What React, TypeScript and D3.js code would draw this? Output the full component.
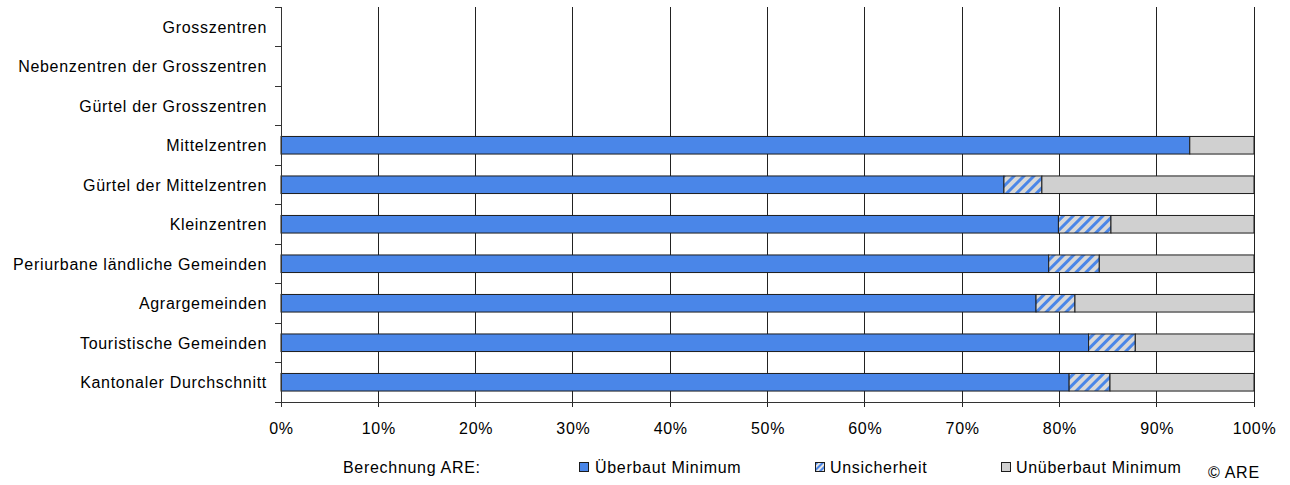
import React from "react";
import * as d3 from "d3";

const categories = [
  "Grosszentren",
  "Nebenzentren der Grosszentren",
  "Gürtel der Grosszentren",
  "Mittelzentren",
  "Gürtel der Mittelzentren",
  "Kleinzentren",
  "Periurbane ländliche Gemeinden",
  "Agrargemeinden",
  "Touristische Gemeinden",
  "Kantonaler Durchschnitt",
];
const ueberbautMinimum = [0, 0, 0, 93.4, 74.3, 79.9, 78.9, 77.6, 83.0, 81.0];
const unsicherheit = [0, 0, 0, 0, 3.9, 5.4, 5.2, 4.0, 4.8, 4.2];
const unueberbautMinimum = [0, 0, 0, 6.6, 21.8, 14.7, 15.9, 18.4, 12.2, 14.8];
const xTicks = [0, 10, 20, 30, 40, 50, 60, 70, 80, 90, 100];
const seriesKeys = ["ueberbaut", "unsicher", "unueberbaut"];
const seriesLabels = ["Überbaut Minimum", "Unsicherheit", "Unüberbaut Minimum"];

const W = 1290;
const H = 485;
const M = { left: 281, right: 36, top: 7, bottom: 83 };
const FONT = "Arial, 'Liberation Sans', sans-serif";
const BLUE = "#4a86e8";
const GREY = "#d0d0d0";
const STROKE = "#1c1c1c";

export default function App() {
  const rows = categories.map((c, i) => ({
    cat: c,
    ueberbaut: ueberbautMinimum[i],
    unsicher: unsicherheit[i],
    unueberbaut: unueberbautMinimum[i],
  }));
  const stacked = d3.stack<any>().keys(seriesKeys)(rows);
  const x = d3.scaleLinear().domain([0, 100]).range([M.left, W - M.right]);
  const y = d3
    .scaleBand()
    .domain(categories)
    .range([M.top, H - M.bottom])
    .paddingInner(0.555)
    .paddingOuter(0.2775);
  const yb = d3.scaleBand().domain(categories).range([M.top, H - M.bottom]);
  const fills = [BLUE, "url(#hatch)", GREY];
  const y0 = M.top;
  const y1 = H - M.bottom;
  const bounds = [...categories.map((c) => yb(c) as number), y1];

  const legendItems = [
    { sx: 579, tx: 595 },
    { sx: 815, tx: 830 },
    { sx: 1001, tx: 1016 },
  ];

  return (
    <svg
      width={W}
      height={H}
      style={{ position: "absolute", left: 0, top: 0, background: "#fff" }}
      fontFamily={FONT}
      fontSize={16}
      letterSpacing={0.7}
    >
      <defs>
        <pattern
          id="hatch"
          patternUnits="userSpaceOnUse"
          width={7}
          height={7}
          patternTransform="rotate(45)"
        >
          <rect width={7} height={7} fill="#d8d8d8" />
          <rect width={3} height={7} fill={BLUE} />
        </pattern>
        <pattern
          id="hatchSmall"
          patternUnits="userSpaceOnUse"
          width={4}
          height={4}
          patternTransform="rotate(45)"
        >
          <rect width={4} height={4} fill="#e6e6e6" />
          <rect width={2} height={4} fill={BLUE} />
        </pattern>
      </defs>

      {/* vertical gridlines */}
      {xTicks.slice(1).map((t) => (
        <line
          key={"g" + t}
          x1={x(t)}
          x2={x(t)}
          y1={y0}
          y2={y1 + 5}
          stroke="#222"
          strokeWidth={1}
          shapeRendering="crispEdges"
        />
      ))}

      {/* bars */}
      {stacked.map((s, si) =>
        s.map((d, i) => {
          const w = x(d[1]) - x(d[0]);
          if (w <= 0.01) return null;
          return (
            <rect
              key={s.key + i}
              x={x(d[0])}
              y={y(categories[i])}
              width={w}
              height={y.bandwidth()}
              fill={fills[si]}
              stroke={STROKE}
              strokeWidth={1}
            />
          );
        })
      )}

      {/* axes */}
      <line x1={M.left} x2={M.left} y1={y0} y2={y1 + 5} stroke="#333" shapeRendering="crispEdges" />
      <line x1={M.left - 6} x2={x(100)} y1={y1} y2={y1} stroke="#333" shapeRendering="crispEdges" />
      {bounds.map((b, i) => (
        <line
          key={"yt" + i}
          x1={M.left - 6}
          x2={M.left}
          y1={b}
          y2={b}
          stroke="#333"
          shapeRendering="crispEdges"
        />
      ))}

      {/* category labels */}
      {categories.map((c) => (
        <text
          key={c}
          x={267}
          y={(yb(c) as number) + yb.bandwidth() / 2 + 5.8}
          textAnchor="end"
          fill="#000"
        >
          {c}
        </text>
      ))}

      {/* x tick labels */}
      {xTicks.map((t) => (
        <text key={"xl" + t} x={x(t) + 0.5} y={433.5} textAnchor="middle" fill="#000">
          {t + "%"}
        </text>
      ))}

      {/* legend */}
      <text x={343} y={473.3} fill="#000">
        Berechnung ARE:
      </text>
      {legendItems.map((it, i) => (
        <g key={"lg" + i}>
          <rect
            x={it.sx + 0.5}
            y={462.5}
            width={9}
            height={9}
            fill={i === 1 ? "url(#hatchSmall)" : fills[i]}
            stroke={STROKE}
            strokeWidth={1}
          />
          <text x={it.tx} y={473.3} fill="#000">
            {seriesLabels[i]}
          </text>
        </g>
      ))}
      <text x={1208} y={478.3} fill="#000">
        © ARE
      </text>
    </svg>
  );
}
